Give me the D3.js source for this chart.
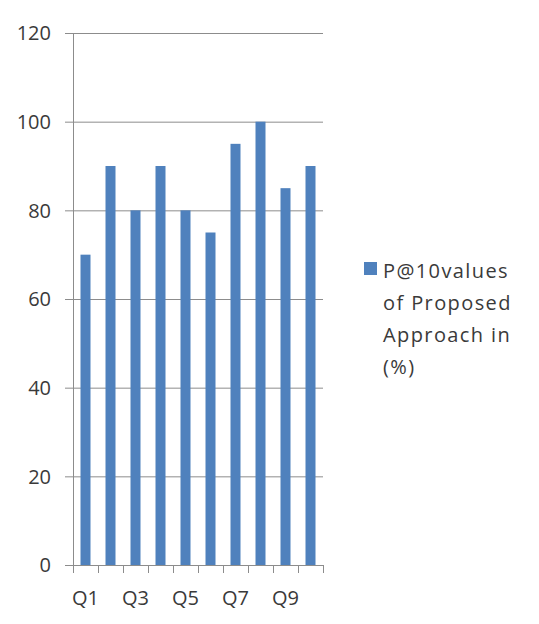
<!DOCTYPE html>
<html>
<head>
<meta charset="utf-8">
<script src="https://cdn.jsdelivr.net/npm/d3@7"></script>
<style>
  body { margin: 0; background: #fff; }
  svg text { font-family: "Open Sans", "DejaVu Sans", sans-serif; fill: #3a3a3a; }
</style>
</head>
<body>
<svg id="chart" width="539" height="624"></svg>
<script>
// data
let categories = ['Q1','Q2','Q3','Q4','Q5','Q6','Q7','Q8','Q9','Q10']
let values = [70, 90, 80, 90, 80, 75, 95, 100, 85, 90]
let yTicks = [0, 20, 40, 60, 80, 100, 120]
let legendLines = ['P@10values', 'of Proposed', 'Approach in', '(%)']

let svg = d3.select('#chart')
let plotL = 73, plotR = 323, plotT = 33, plotB = 565

let x = d3.scaleBand()
  .domain(categories)
  .range([plotL, plotR])
  .paddingInner(0.6)
  .paddingOuter(0.3)

let y = d3.scaleLinear()
  .domain([0, 120])
  .range([plotB, plotT])

// grid lines
svg.append('g')
  .selectAll('line')
  .data(yTicks)
  .join('line')
  .attr('x1', plotL - 8)
  .attr('x2', plotR)
  .attr('y1', d => y(d) + 0.5)
  .attr('y2', d => y(d) + 0.5)
  .attr('stroke', '#8c8c8c')
  .attr('stroke-width', 1)

// y axis line
svg.append('line')
  .attr('x1', plotL + 0.5).attr('x2', plotL + 0.5)
  .attr('y1', plotT).attr('y2', plotB)
  .attr('stroke', '#8c8c8c')

// y labels
svg.append('g')
  .selectAll('text')
  .data(yTicks)
  .join('text')
  .attr('x', 51)
  .attr('y', d => y(d))
  .attr('dy', '0.36em')
  .attr('text-anchor', 'end')
  .style('font-size', '20px')
  .text(d => d)

// bars
svg.append('g')
  .selectAll('rect')
  .data(values)
  .join('rect')
  .attr('x', (d, i) => x(categories[i]))
  .attr('y', d => y(d))
  .attr('width', x.bandwidth())
  .attr('height', d => y(0) - y(d))
  .attr('fill', '#4f81bd')

// x tick marks on band edges
let edges = d3.range(categories.length + 1).map(i => plotL + i * (plotR - plotL) / categories.length)
svg.append('g')
  .selectAll('line')
  .data(edges)
  .join('line')
  .attr('x1', d => d + 0.5).attr('x2', d => d + 0.5)
  .attr('y1', plotB).attr('y2', plotB + 8)
  .attr('stroke', '#8c8c8c')

// x labels, every other category
svg.append('g')
  .selectAll('text')
  .data(categories.filter((c, i) => i % 2 == 0))
  .join('text')
  .attr('x', d => x(d) + x.bandwidth() / 2)
  .attr('y', 605)
  .attr('text-anchor', 'middle')
  .style('font-size', '20px')
  .text(d => d)

// legend
let lg = svg.append('g').attr('transform', 'translate(364,262)')
lg.append('rect')
  .attr('width', 13).attr('height', 13)
  .attr('fill', '#4f81bd')
lg.selectAll('text')
  .data(legendLines)
  .join('text')
  .attr('x', 19)
  .attr('y', (d, i) => 16 + i * 32)
  .style('font-size', '20px')
  .style('letter-spacing', '1.4px')
  .text(d => d)
</script>
</body>
</html>
